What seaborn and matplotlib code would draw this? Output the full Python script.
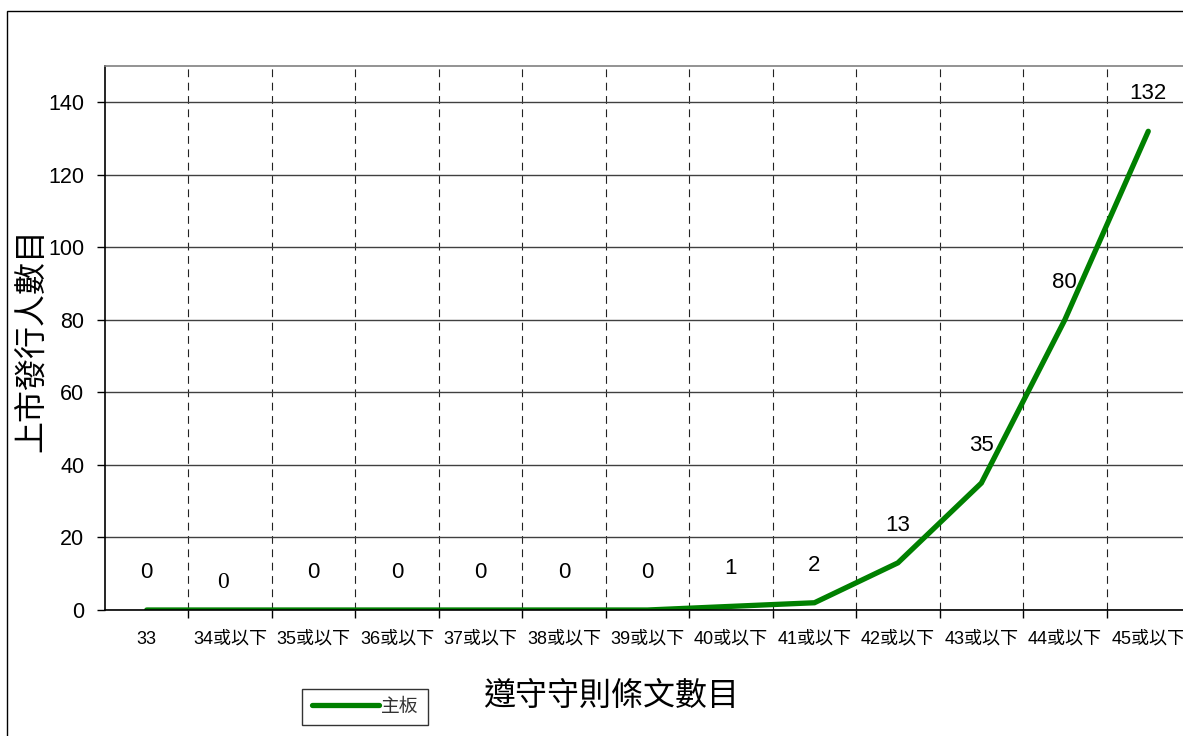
import matplotlib
matplotlib.use("Agg")
import matplotlib.pyplot as plt
import seaborn as sns
import pandas as pd
from matplotlib.patches import Rectangle
from matplotlib.ticker import FixedLocator

categories = ["33", "34或以下", "35或以下", "36或以下", "37或以下", "38或以下", "39或以下",
              "40或以下", "41或以下", "42或以下", "43或以下", "44或以下", "45或以下"]
values = [0, 0, 0, 0, 0, 0, 0, 1, 2, 13, 35, 80, 132]
series_name = "主板"
x_title = "遵守守則條文數目"
y_title = "上市發行人數目"
y_ticks = [0, 20, 40, 60, 80, 100, 120, 140]

sns.set_theme(style="white")
fams = ["Liberation Sans", "Noto Sans CJK TC", "DejaVu Sans"]
plt.rcParams["font.family"] = fams

W, H = 1183, 736
fig = plt.figure(figsize=(W / 100, H / 100), dpi=100)
fig.patch.set_facecolor("white")
ax = fig.add_axes([105 / W, 1 - 610 / H, (1190 - 105) / W, (610 - 66) / H])

df = pd.DataFrame({"cat": categories, "val": values})
sns.lineplot(data=df, x="cat", y="val", ax=ax, color="#008000", linewidth=3.8,
             label=series_name, sort=False, solid_capstyle="round", solid_joinstyle="miter")

ax.set_xlim(-0.5, len(categories) - 0.5)
ax.set_ylim(0, 150)

# y axis
ax.set_yticks(y_ticks)
ax.set_yticklabels([str(t) for t in y_ticks], fontsize=15.5, color="black")
ax.tick_params(axis="y", which="major", direction="out", length=6, width=1, color="black",
               pad=9, left=True)
ax.yaxis.grid(True, color="#404040", linewidth=1, linestyle="-")

# x axis
ax.set_xticks(range(len(categories)))
ax.set_xticklabels(categories, fontsize=13, color="black")
ax.tick_params(axis="x", which="major", length=0, pad=15)
ax.xaxis.set_minor_locator(FixedLocator([i + 0.5 for i in range(len(categories) - 1)]))
ax.tick_params(axis="x", which="minor", direction="out", length=6, width=1, color="black",
               bottom=True)
ax.xaxis.grid(True, which="minor", color="#222222", linewidth=0.8, linestyle=(0, (7, 5)))
ax.xaxis.grid(False, which="major")
ax.set_xlabel("")
ax.set_ylabel("")

for side in ["left", "bottom"]:
    ax.spines[side].set_color("black")
    ax.spines[side].set_linewidth(1.2)
ax.spines["top"].set_color("#808080")
ax.spines["top"].set_linewidth(1.2)
ax.spines["right"].set_visible(False)

# data labels
for i, v in enumerate(values):
    if i == 1:
        ax.annotate(str(v), (i, v), xytext=(-5, 20), textcoords="offset points",
                    ha="center", va="center", fontsize=17, family="Liberation Serif",
                    color="black")
    else:
        ax.annotate(str(v), (i, v), xytext=(0, 27), textcoords="offset points",
                    ha="center", va="center", fontsize=16, color="black")

# axis titles
fig.text(33 / W, 1 - 340 / H, y_title, rotation=90, ha="center", va="center",
         fontsize=23, color="black")
fig.text(611 / W, 1 - 697 / H, x_title, ha="center", va="center", fontsize=23,
         color="black")

# legend
ax.get_legend().remove()
handles, labels = ax.get_legend_handles_labels()
leg = fig.legend(handles, labels, loc="center", bbox_to_anchor=(365 / W, 1 - 707 / H),
                 fontsize=13.5, frameon=True, fancybox=False, handlelength=3.6,
                 handletextpad=0.1, borderpad=0.5, borderaxespad=0)
leg.get_frame().set_edgecolor("black")
leg.get_frame().set_linewidth(1)
for t in leg.get_texts():
    t.set_color("#333333")

# outer chart border
fig.patches.append(Rectangle((7 / W, -0.05), 1.2, 1 - 11 / H + 0.05, transform=fig.transFigure,
                             fill=False, edgecolor="black", linewidth=1))

fig.savefig("out.png", dpi=100, facecolor="white")
